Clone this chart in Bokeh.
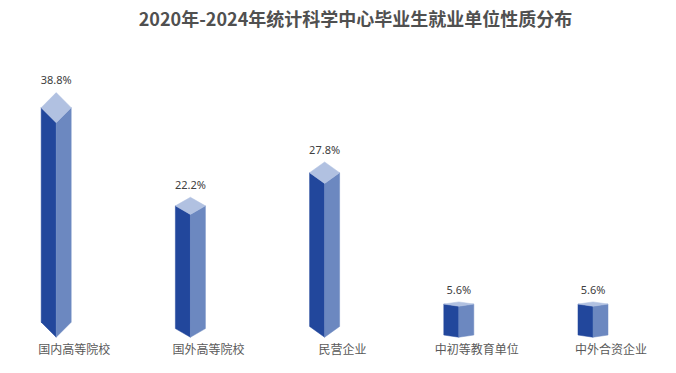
from bokeh.plotting import figure
from bokeh.models import ColumnDataSource, Range1d, Label
from bokeh.core.properties import value
from bokeh.embed import file_html
from bokeh.resources import INLINE

title_text = "2020年-2024年统计科学中心毕业生就业单位性质分布"
categories = ["国内高等院校", "国外高等院校", "民营企业", "中初等教育单位", "中外合资企业"]
values = [38.8, 22.2, 27.8, 5.6, 5.6]
value_labels = ["38.8%", "22.2%", "27.8%", "5.6%", "5.6%"]

W, H = 660, 357
p = figure(width=W, height=H, output_backend="svg", toolbar_location=None,
           x_range=Range1d(-0.415, 4.503), y_range=Range1d(-3.67, 60.89),
           min_border=0, min_border_left=0, min_border_right=0,
           min_border_top=0, min_border_bottom=0)
p.axis.visible = False
p.grid.visible = False
p.outline_line_color = None
p.background_fill_color = "white"

hw = 0.1118          # half bar width (x units)
depth_k = 0.07       # top-face depth relative to value (y units)

left_xs, left_ys, right_xs, right_ys, top_xs, top_ys = [], [], [], [], [], []
lab_x, lab_y, cat_x = [], [], []
for i, v in enumerate(values):
    x = i
    dd = depth_k * v
    left_xs.append([x - hw, x, x, x - hw])
    left_ys.append([dd, 0, v, v + dd])
    right_xs.append([x, x + hw, x + hw, x])
    right_ys.append([0, dd, v + dd, v])
    top_xs.append([x - hw, x, x + hw, x])
    top_ys.append([v + dd, v, v + dd, v + 2 * dd])
    lab_x.append(x)
    lab_y.append(v + 2 * dd + 2.3)
    cat_x.append(x + 0.134)

p.patches(left_xs, left_ys, fill_color="#22479c", line_color="#22479c", line_width=0.5)
p.patches(right_xs, right_ys, fill_color="#6c88c0", line_color="#6c88c0", line_width=0.5)
p.patches(top_xs, top_ys, fill_color="#b1c1e1", line_color="#b1c1e1", line_width=0.5)

src_lab = ColumnDataSource(dict(x=lab_x, y=lab_y, t=value_labels))
p.text(x="x", y="y", text="t", source=src_lab, text_align="center",
       text_baseline="middle", text_font=value("Noto Sans"),
       text_font_size="11px", text_color="#404040")

src_cat = ColumnDataSource(dict(x=cat_x, y=[-2.05] * len(categories), t=categories))
p.text(x="x", y="y", text="t", source=src_cat, text_align="center",
       text_baseline="middle", text_font=value("Noto Sans CJK SC"),
       text_font_size="12px", text_color="#595959")

title = Label(x=355, y=H - 17, x_units="screen", y_units="screen", text=title_text,
              text_align="center", text_baseline="middle",
              text_font="Noto Sans CJK SC", text_font_style="bold",
              text_font_size="18px", text_color="#505050")
p.add_layout(title)

open("out.html", "w").write(file_html(p, INLINE))
